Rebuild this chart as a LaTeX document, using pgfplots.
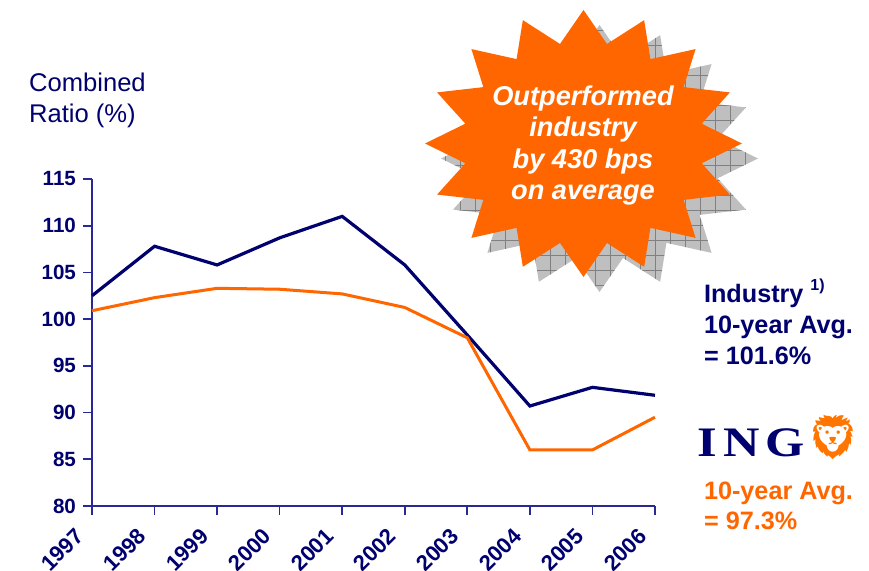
\documentclass[border=0pt]{standalone}
\usepackage{fontspec}
\setmainfont{Liberation Sans}
\newfontfamily\ingfont{Liberation Serif}
\newfontfamily\emojifont{Noto Emoji}
\usepackage{graphicx}
\usepackage{pgfplots}
\pgfplotsset{compat=1.18}

\definecolor{ingnavy}{RGB}{0,0,110}
\definecolor{axisnavy}{RGB}{40,40,150}
\definecolor{ingorange}{RGB}{255,102,0}

\begin{document}
\begin{tikzpicture}
\begin{axis}[
    scale only axis,
    width=281.5pt, height=163.5pt,
    at={(46pt,32.5pt)}, anchor=south west,
    xmin=1997, xmax=2006, ymin=80, ymax=115,
    axis lines=left,
    axis line style={-, axisnavy, line width=0.8pt},
    every tick/.style={axisnavy, line width=0.8pt},
    tick align=outside,
    major tick length=4.5pt,
    xtick={1997,...,2006},
    xticklabels={1997,1998,1999,2000,2001,2002,2003,2004,2005,2006},
    ytick={80,85,...,115},
    /pgf/number format/assume math mode=true,
    ticklabel style={font=\bfseries\fontsize{10.3}{12}\selectfont, text=ingnavy},
    xticklabel style={font=\bfseries\fontsize{11}{12}\selectfont,
        xshift=-9pt, yshift=-1pt, rotate=45, anchor=north east},
    clip=false,
]
\addplot[ingnavy, line width=1.6pt] coordinates {
    (1997,102.5) (1998,107.8) (1999,105.8) (2000,108.7) (2001,111.0)
    (2002,105.8) (2003,98.3) (2004,90.7) (2005,92.7) (2006,91.85)};
\addplot[ingorange, line width=1.5pt] coordinates {
    (1997,100.9) (1998,102.3) (1999,103.3) (2000,103.2) (2001,102.7)
    (2002,101.25) (2003,98.0) (2004,86.0) (2005,86.0) (2006,89.5)};
\end{axis}

% annotations in image pixel coordinates (y downwards)
\begin{scope}[x=0.5pt, y=-0.5pt, yshift=285.5pt]
  \node[anchor=base west, text=ingnavy, align=left, font=\fontsize{12.8}{15.5}\selectfont]
    at (22,123) {Combined\\Ratio (\%)};

  % shadow starburst with grid
  \begin{scope}
    \clip plot[domain=0:31, samples=32, variable=\t]
      ({599.5+158.5*(0.88+0.12*cos(\t*180))*sin(\t*11.25)},
       {158.5-133.5*(0.88+0.12*cos(\t*180))*cos(\t*11.25)}) -- cycle;
    \fill[black!25] (400,0) rectangle (800,320);
    \foreach \gx in {400,415,...,800} \draw[black!50, line width=0.3pt] (\gx,0) -- (\gx,320);
    \foreach \gy in {0,15,...,320} \draw[black!50, line width=0.3pt] (400,\gy) -- (800,\gy);
  \end{scope}
  \fill[ingorange] plot[domain=0:31, samples=32, variable=\t]
      ({583.5+158.5*(0.88+0.12*cos(\t*180))*sin(\t*11.25)},
       {143.5-133.5*(0.88+0.12*cos(\t*180))*cos(\t*11.25)}) -- cycle;
  \node[anchor=base, text=white, align=center,
        font=\bfseries\itshape\fontsize{13.6}{15.8}\selectfont]
    at (583,200) {Outperformed\\industry\\by 430 bps\\on average};

  \node[anchor=base west, text=ingnavy, align=left,
        font=\bfseries\fontsize{12.6}{15.7}\selectfont]
    at (697,365) {Industry \raisebox{0.45em}{\fontsize{8}{8}\selectfont 1)}\\10-year Avg.\\= 101.6\%};

  \node[anchor=base west, inner sep=0pt, text=ingnavy,
        font=\ingfont\bfseries\fontsize{21}{21}\selectfont]
    at (697,457) {\scalebox{1.2}[1]{I\hspace{2.5pt}N\hspace{2.5pt}G}};
  \node[text=ingorange!90!yellow, inner sep=0pt, font=\emojifont\fontsize{22}{22}\selectfont]
    at (833,437) {🦁};

  \node[anchor=base west, text=ingorange, align=left,
        font=\bfseries\fontsize{12.6}{15.2}\selectfont]
    at (697,530) {10-year Avg.\\= 97.3\%};
\end{scope}

\pgfresetboundingbox
\path (0,0) rectangle (434.5pt,285.5pt);
\end{tikzpicture}
\end{document}
